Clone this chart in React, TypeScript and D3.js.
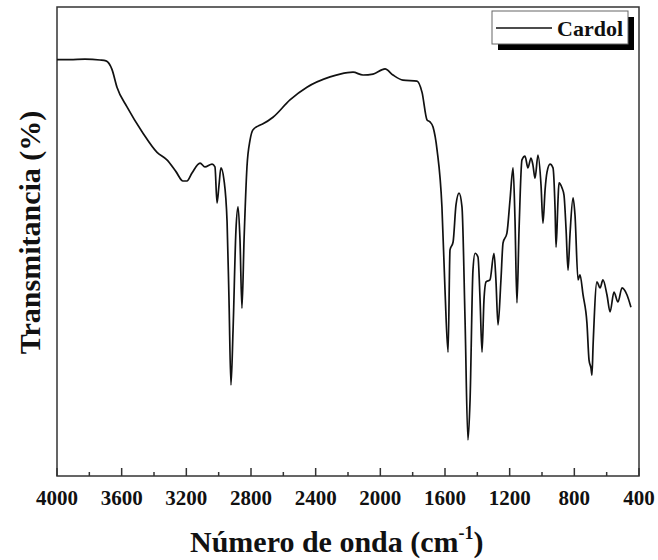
import React, { useEffect, useRef } from "react";
import * as d3 from "d3";

const wavenumbers = [
  4000, 3920, 3827, 3734, 3697, 3660, 3629, 3567, 3468, 3381, 3320, 3264, 3221, 3196, 3165, 3115, 3085, 3041, 3023, 3010,
  2998, 2986, 2967, 2948, 2936, 2924, 2911, 2893, 2880, 2868, 2856, 2843, 2825, 2806, 2788, 2757, 2726, 2664, 2559, 2454,
  2311, 2249, 2169, 2107, 2045, 1971, 1922, 1860, 1773, 1742, 1711, 1693, 1674, 1649, 1619, 1600, 1581, 1569, 1550, 1532,
  1513, 1495, 1476, 1458, 1445, 1427, 1414, 1396, 1383, 1371, 1359, 1346, 1322, 1297, 1285, 1272, 1254, 1241, 1217, 1198,
  1179, 1167, 1155, 1142, 1124, 1105, 1087, 1068, 1056, 1043, 1025, 1006, 994, 981, 969, 950, 932, 919, 913, 901,
  895, 876, 864, 851, 839, 827, 808, 796, 777, 765, 746, 722, 709, 697, 691, 684, 660, 641, 623, 598,
  579, 555, 530, 505, 474, 450,
];
const transmittance = [
  88.8, 88.8, 88.9, 88.7, 88.5, 86.7, 82.9, 78.7, 73.1, 69.0, 67.4, 64.9, 62.9, 62.9, 64.6, 66.7, 65.9, 66.5, 65.9, 58.2,
  62.0, 65.7, 63.1, 54.2, 37.5, 19.4, 31.1, 52.5, 57.4, 50.3, 35.8, 50.3, 65.9, 71.6, 73.8, 74.6, 75.1, 76.5, 80.2, 82.9,
  85.1, 85.7, 86.1, 85.5, 85.7, 86.8, 85.5, 84.4, 84.2, 81.8, 75.9, 75.5, 74.4, 69.5, 57.4, 39.7, 26.4, 48.2, 49.9, 57.8,
  60.3, 57.4, 33.3, 7.7, 16.2, 43.9, 47.5, 46.7, 37.5, 26.4, 37.5, 41.4, 41.8, 47.5, 41.8, 32.2, 41.8, 49.7, 51.8, 58.8,
  65.7, 54.6, 36.9, 52.5, 67.4, 68.2, 65.7, 67.8, 66.3, 63.5, 68.4, 62.0, 53.9, 61.0, 64.8, 66.5, 65.7, 56.7, 48.8, 58.8,
  62.5, 61.4, 59.9, 52.5, 43.9, 51.4, 59.3, 55.7, 41.8, 42.9, 38.6, 32.6, 24.7, 23.0, 21.5, 27.9, 41.4, 40.1, 41.8, 38.6,
  35.0, 39.2, 37.1, 40.1, 38.6, 36.0,
];
const xTicks = [4000, 3600, 3200, 2800, 2400, 2000, 1600, 1200, 800, 400];
const xMinorTicks = [3800, 3400, 3000, 2600, 2200, 1800, 1400, 1000, 600];
const seriesName = "Cardol";
const xTitle = "Número de onda (cm";
const xTitleSup = "-1";
const yTitle = "Transmitancia (%)";

const W = 658;
const H = 560;
const M = { left: 57, right: 19, top: 7, bottom: 84 };
const FONT = "'Liberation Serif', 'DejaVu Serif', serif";

export default function App() {
  const ref = useRef<SVGSVGElement>(null);
  useEffect(() => {
    const svg = d3.select(ref.current);
    svg.selectAll("*").remove();
    const x = d3.scaleLinear().domain([4000, 400]).range([M.left, W - M.right]);
    const y = d3.scaleLinear().domain([0, 100]).range([H - M.bottom, M.top]);
    const x0 = M.left, x1 = W - M.right, y0 = M.top, y1 = H - M.bottom;

    const data = wavenumbers.map((w, i) => [w, transmittance[i]] as [number, number]);
    const line = d3
      .line<[number, number]>()
      .x((d) => x(d[0]))
      .y((d) => y(d[1]))
      .curve(d3.curveMonotoneX);

    svg
      .append("rect")
      .attr("x", x0)
      .attr("y", y0)
      .attr("width", x1 - x0)
      .attr("height", y1 - y0)
      .attr("fill", "none")
      .attr("stroke", "#333")
      .attr("stroke-width", 1.5);

    const g = svg.append("g");
    g.selectAll(".maj")
      .data(xTicks)
      .join("line")
      .attr("x1", (d) => x(d))
      .attr("x2", (d) => x(d))
      .attr("y1", y1)
      .attr("y2", y1 - 8)
      .attr("stroke", "#333")
      .attr("stroke-width", 1.5);
    g.selectAll(".min")
      .data(xMinorTicks)
      .join("line")
      .attr("x1", (d) => x(d))
      .attr("x2", (d) => x(d))
      .attr("y1", y1)
      .attr("y2", y1 - 4)
      .attr("stroke", "#333")
      .attr("stroke-width", 1.5);
    g.selectAll(".lab")
      .data(xTicks)
      .join("text")
      .attr("x", (d) => x(d))
      .attr("y", y1 + 29)
      .attr("text-anchor", "middle")
      .attr("font-family", FONT)
      .attr("font-weight", "bold")
      .attr("font-size", 21)
      .attr("fill", "#111")
      .text((d) => String(d));

    svg
      .append("path")
      .datum(data)
      .attr("d", line)
      .attr("fill", "none")
      .attr("stroke", "#111")
      .attr("stroke-width", 1.7)
      .attr("stroke-linejoin", "round");

    const xt = svg
      .append("text")
      .attr("x", 190)
      .attr("y", 552)
      .attr("text-anchor", "start")
      .attr("font-family", FONT)
      .attr("font-weight", "bold")
      .attr("font-size", 30)
      .attr("fill", "#111");
    xt.append("tspan").text(xTitle);
    xt.append("tspan").attr("font-size", 18).attr("dy", -13).text(xTitleSup);
    xt.append("tspan").attr("dy", 13).text(")");

    svg
      .append("text")
      .attr("transform", `translate(40, 232.5) rotate(-90)`)
      .attr("text-anchor", "middle")
      .attr("font-family", FONT)
      .attr("font-weight", "bold")
      .attr("font-size", 30)
      .attr("fill", "#111")
      .text(yTitle);

    const lx = 492, ly = 11, lw = 136, lh = 33;
    svg.append("rect").attr("x", lx + 6).attr("y", ly + 6).attr("width", lw).attr("height", lh).attr("fill", "#000");
    svg
      .append("rect")
      .attr("x", lx)
      .attr("y", ly)
      .attr("width", lw)
      .attr("height", lh)
      .attr("fill", "#fff")
      .attr("stroke", "#666")
      .attr("stroke-width", 1);
    svg
      .append("line")
      .attr("x1", lx + 4)
      .attr("x2", lx + 60)
      .attr("y1", ly + 17)
      .attr("y2", ly + 17)
      .attr("stroke", "#111")
      .attr("stroke-width", 1.7);
    svg
      .append("text")
      .attr("x", lx + 65)
      .attr("y", ly + 25)
      .attr("font-family", FONT)
      .attr("font-weight", "bold")
      .attr("font-size", 22)
      .attr("fill", "#111")
      .text(seriesName);
  }, []);
  return (
    <svg
      ref={ref}
      width={W}
      height={H}
      style={{ position: "absolute", left: 0, top: 0, background: "#fff" }}
    />
  );
}
